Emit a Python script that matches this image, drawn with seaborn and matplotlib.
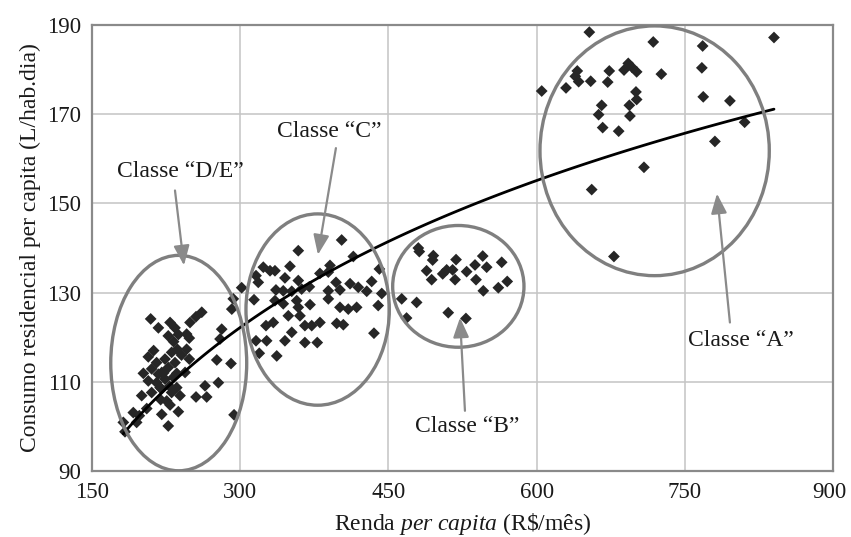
import numpy as np
import pandas as pd
import matplotlib
matplotlib.use("Agg")
import matplotlib.pyplot as plt
from matplotlib.patches import Ellipse
from matplotlib.transforms import ScaledTranslation
import seaborn as sns

# Renda per capita (R$/mês) and consumo (L/hab.dia) per income class
renda_de = [209.4, 217.2, 229.0, 234.0, 227.2, 237.4, 245.8, 249.2, 255.3, 261.1,
            248.5, 245.8, 236.4, 230.6, 207.0, 234.0, 248.5, 223.9, 215.4, 276.3,
            290.7, 281.3, 279.6, 202.0, 210.4, 217.2, 227.2, 235.8, 244.2, 207.0,
            215.4, 223.9, 232.3, 220.6, 230.6, 235.8, 239.1, 200.3, 210.4, 225.6,
            229.0, 264.4, 277.9, 255.3, 266.1, 191.8, 197.9, 220.6, 237.4, 227.2,
            181.7, 183.4, 195.2, 293.8, 220.6, 218.9, 222.5, 228.5, 212.4, 240.6,
            232.6, 219.5, 205.4]
consumo_de = [124.1, 122.1, 123.3, 122.1, 120.3, 120.6, 120.7, 123.3, 124.6, 125.6,
              119.8, 117.3, 117.3, 116.6, 115.6, 114.3, 115.1, 115.1, 114.3, 114.9,
              114.1, 121.8, 119.6, 111.9, 112.9, 111.7, 113.2, 111.9, 112.1, 110.2,
              109.8, 110.6, 111.0, 108.4, 107.6, 108.7, 106.9, 106.9, 107.6, 105.7,
              104.8, 109.1, 109.8, 106.6, 106.6, 103.1, 102.4, 102.7, 103.3, 100.1,
              100.9, 98.8, 100.9, 102.6, 112.1, 108.7, 112.0, 109.0, 117.0, 116.0,
              119.0, 106.0, 104.0]

renda_c = [358.8, 402.7, 323.4, 330.2, 335.2, 350.4, 316.0, 318.3, 345.3, 358.8,
           380.7, 390.9, 389.2, 414.5, 397.0, 411.2, 419.5, 428.1, 433.1, 440.9,
           336.2, 343.6, 352.2, 362.2, 370.0, 389.2, 389.2, 401.0, 443.3, 314.0,
           335.2, 343.6, 357.2, 358.8, 370.7, 401.0, 409.4, 417.9, 439.7, 348.7,
           360.5, 365.5, 372.4, 380.7, 397.7, 404.4, 326.1, 333.5, 352.2, 316.0,
           326.8, 345.3, 365.5, 378.0, 435.4, 319.3, 337.0, 301.5, 293.0, 291.5,
           463.5, 478.6, 468.4]
consumo_c = [139.4, 141.8, 135.7, 134.9, 134.9, 135.9, 133.8, 132.3, 133.3, 132.7,
             134.3, 136.1, 134.6, 138.1, 132.3, 132.0, 131.2, 130.3, 132.5, 135.3,
             130.6, 130.4, 130.3, 130.8, 131.3, 130.4, 128.6, 130.6, 129.8, 128.4,
             128.2, 127.5, 128.2, 126.7, 127.3, 126.7, 126.3, 126.7, 127.1, 124.8,
             124.8, 122.6, 122.6, 123.3, 123.1, 122.8, 122.6, 123.3, 121.1, 119.2,
             119.2, 119.2, 118.8, 118.8, 120.9, 116.4, 115.8, 131.1, 128.6, 126.3,
             128.6, 127.8, 124.3]

renda_b = [480.3, 481.3, 495.5, 494.8, 518.5, 488.7, 493.8, 505.0, 509.0, 515.0,
           517.5, 529.2, 537.7, 545.5, 549.5, 564.7, 538.7, 546.1, 561.3, 570.3,
           510.6, 528.5]
consumo_b = [140.0, 139.2, 138.3, 137.3, 137.4, 134.9, 132.9, 134.2, 135.1, 135.1,
             132.9, 134.7, 136.2, 138.2, 135.7, 136.8, 132.9, 130.4, 131.1, 132.5,
             125.5, 124.2]

renda_a = [653.4, 718.1, 768.1, 840.3, 605.2, 629.8, 641.2, 642.6, 654.8, 673.6,
           672.0, 688.5, 692.8, 701.3, 726.3, 767.3, 700.6, 701.3, 693.9, 665.9,
           662.8, 694.5, 666.9, 683.1, 768.7, 795.7, 810.6, 780.5, 708.7, 655.8,
           678.3, 696.7, 639.2]
consumo_a = [188.4, 186.2, 185.3, 187.2, 175.2, 175.9, 179.7, 177.3, 177.4, 179.7,
             177.2, 179.9, 181.4, 179.5, 179.0, 180.4, 175.0, 173.3, 172.0, 172.0,
             169.9, 169.6, 167.0, 166.2, 173.9, 173.0, 168.2, 163.9, 158.1, 153.1,
             138.1, 180.5, 178.5]

classes = ["Classe \u201cD/E\u201d", "Classe \u201cC\u201d",
           "Classe \u201cB\u201d", "Classe \u201cA\u201d"]

# Ellipse outlines around each class: centre x, centre y, width, height
elipse_cx = [237.8, 378.4, 520.8, 719.5]
elipse_cy = [114.2, 126.2, 131.4, 161.8]
elipse_w = [137.6, 145.1, 132.9, 232.1]
elipse_h = [48.3, 42.9, 27.3, 56.0]

# Label positions and arrow endpoints
rotulo_xy = [(239.1, 157.2), (389.9, 166.2), (529.5, 99.9), (806.9, 119.2)]
seta_ini = [(234.0, 152.9), (396.9, 162.4), (527.5, 103.5), (795.7, 123.3)]
seta_fim = [(243.1, 136.1), (378.7, 138.5), (522.5, 124.4), (782.6, 152.2)]

x_ticks = [150, 300, 450, 600, 750, 900]
y_ticks = [90, 110, 130, 150, 170, 190]

df = pd.DataFrame({
    "renda": renda_de + renda_c + renda_b + renda_a,
    "consumo": consumo_de + consumo_c + consumo_b + consumo_a,
})

sns.set_theme(style="whitegrid")
plt.rcParams["font.family"] = ["Liberation Serif", "DejaVu Serif"]
plt.rcParams["mathtext.fontset"] = "custom"
plt.rcParams["mathtext.rm"] = "Liberation Serif"
plt.rcParams["mathtext.it"] = "Liberation Serif:italic"

fig = plt.figure(figsize=(8.51, 5.37), dpi=100)
ax = fig.add_axes([0.1081, 0.1229, 0.8707, 0.8305])

sns.scatterplot(data=df, x="renda", y="consumo", marker="D", s=36,
                color="#262626", edgecolor="none", ax=ax, zorder=3)

# logarithmic trend line fitted to all points
sns.regplot(data=df, x="renda", y="consumo", logx=True, scatter=False, ci=None,
            line_kws={"color": "black", "lw": 2.0, "zorder": 4}, ax=ax)

for cx, cy, w, h in zip(elipse_cx, elipse_cy, elipse_w, elipse_h):
    ax.add_patch(Ellipse((cx, cy), w, h, fill=False, edgecolor="#7f7f7f",
                         lw=2.4, zorder=5))

for nome, (tx, ty), p0, p1 in zip(classes, rotulo_xy, seta_ini, seta_fim):
    ax.text(tx, ty, nome, ha="center", va="center", fontsize=17, color="#1a1a1a",
            zorder=6)
    ax.annotate("", xy=p1, xytext=p0,
                arrowprops=dict(arrowstyle="-|>,head_length=1.0,head_width=0.4",
                                color="#8a8a8a", lw=1.6, shrinkA=0, shrinkB=0),
                zorder=6)

ax.set_xlim(150, 900)
ax.set_ylim(90, 190)
ax.set_xticks(x_ticks)
ax.set_yticks(y_ticks)
ax.tick_params(axis="both", labelsize=16.5, colors="#1a1a1a", length=4,
               color="#8a8a8a", pad=4)
ax.grid(True, color="#c4c4c4", lw=1.1)
for sp in ax.spines.values():
    sp.set_visible(True)
    sp.set_color("#8a8a8a")
    sp.set_linewidth(1.6)

# keep the last x tick label inside the figure
ultimo = ax.get_xticklabels()[-1]
ultimo.set_transform(ultimo.get_transform()
                     + ScaledTranslation(-4 / 100, 0, fig.dpi_scale_trans))

ax.set_xlabel("Renda $\\mathit{per\\ capita}$ (R\\$/mês)", fontsize=17,
              color="#1a1a1a", labelpad=6)
ax.set_ylabel("Consumo residencial per capita (L/hab.dia)", fontsize=17,
              color="#1a1a1a", labelpad=4)

fig.savefig("out.png", dpi=100, facecolor="white")
